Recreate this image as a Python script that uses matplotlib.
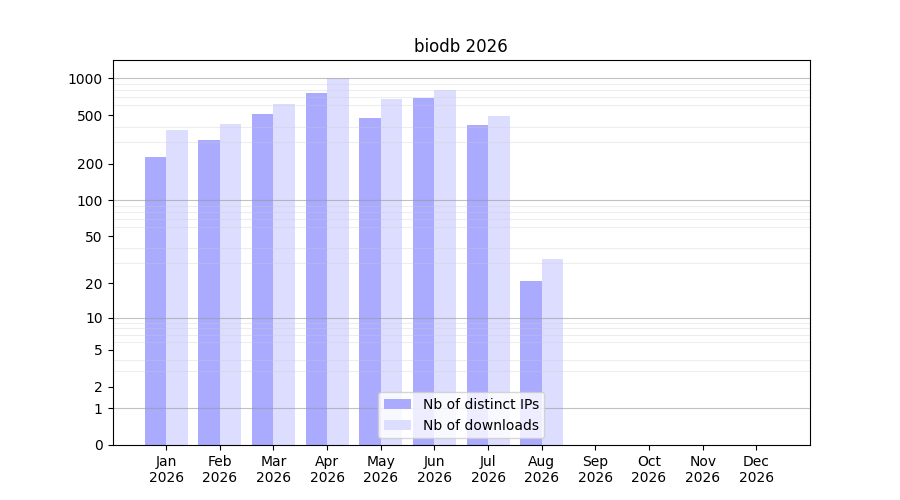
import numpy as np
import matplotlib
matplotlib.use("Agg")
import matplotlib.pyplot as plt
from matplotlib.ticker import FixedLocator, NullFormatter

title = "biodb 2026"
months = ["Jan", "Feb", "Mar", "Apr", "May", "Jun", "Jul", "Aug", "Sep", "Oct", "Nov", "Dec"]
year = "2026"
distinct_ips = [225, 310, 507, 753, 471, 687, 413, 21, 0, 0, 0, 0]
downloads = [375, 420, 612, 1000, 674, 798, 489, 32, 0, 0, 0, 0]
label_ips = "Nb of distinct IPs"
label_dl = "Nb of downloads"
ytick_vals = [0, 1, 2, 5, 10, 20, 50, 100, 200, 500, 1000]
major_grid = [1, 10, 100, 1000]
minor_grid = [m * d for d in (1, 10, 100) for m in range(2, 10)]

fig, ax = plt.subplots(figsize=(9, 5), dpi=100)
ax.set_yscale("function", functions=(lambda y: np.log10(1 + np.maximum(y, 0)),
                                      lambda y: 10 ** y - 1))
x = np.arange(len(months))
w = 0.4
ax.bar(x - w / 2, distinct_ips, w, color="#aaaaff", label=label_ips)
ax.bar(x + w / 2, downloads, w, color="#ddddff", label=label_dl)

ax.yaxis.set_major_locator(FixedLocator(ytick_vals))
ax.set_yticklabels([str(v) for v in ytick_vals])
ax.yaxis.set_minor_locator(FixedLocator(minor_grid))
ax.yaxis.set_minor_formatter(NullFormatter())
ax.tick_params(axis="y", which="minor", length=0)
ax.grid(True, axis="y", which="minor", color="#cccccc", alpha=0.35, linewidth=0.8, zorder=1.5)
for v in major_grid:
    ax.axhline(v, color="#999999", alpha=0.6, linewidth=0.8, zorder=1.5)

ax.set_xticks(x)
ax.set_xticklabels([f"{m}\n{year}" for m in months])
ax.set_xlim(-1, len(months))
ax.set_title(title)
ax.legend(loc="lower center")
fig.savefig("out.png")
